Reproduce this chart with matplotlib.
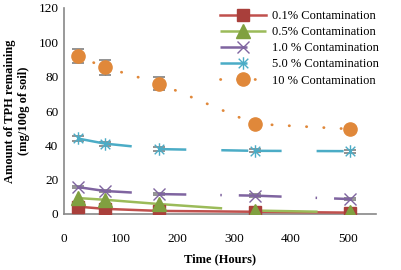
import matplotlib
matplotlib.use("Agg")
import matplotlib.pyplot as plt
from matplotlib.path import Path
from matplotlib.lines import Line2D
import numpy as np

plt.rcParams['font.family'] = ['Liberation Serif', 'DejaVu Serif']
plt.rcParams['lines.scale_dashes'] = False

hours = [24, 72, 168, 336, 504]
c01 = [4.3, 3.0, 1.8, 1.3, 0.8]
c05 = [9.3, 8.3, 5.8, 2.0, 1.0]
c10 = [15.7, 13.4, 11.6, 10.7, 8.7]
c50 = [44.0, 41.0, 37.8, 36.8, 36.6]
c100 = [92.0, 85.5, 76.0, 52.5, 49.5]
err100 = [4.2, 4.5, 4.0, 1.0, 1.0]
err50 = [1.5, 1.2, 1.2, 0.8, 0.8]
err10 = [0.8, 0.8, 0.8, 0.8, 0.8]

labels = ["0.1% Contamination", "0.5% Contamination", "1.0 % Contamination",
          "5.0 % Contamination", "10 % Contamination"]
xticks = [0, 100, 200, 300, 400, 500]
yticks = [0, 20, 40, 60, 80, 100, 120]

W, H = 401, 270
fig = plt.figure(figsize=(W/100, H/100), dpi=100)
ax = fig.add_axes([64/W, 1-214/H, (376-64)/W, (214-8)/H])

px = 0.72  # points per pixel

red = '#A93F3B'
green = '#80A040'
purple = '#7F64A0'
cyan = '#4BACC6'
orange = '#E0883A'
gray = '#808080'

star = Path([(-1, -1), (1, 1), (-1, 1), (1, -1), (0, -1.3), (0, 1.3)],
            [Path.MOVETO, Path.LINETO, Path.MOVETO, Path.LINETO, Path.MOVETO, Path.LINETO])

ecap = dict(fmt='none', ecolor=gray, elinewidth=1.0, capsize=4, capthick=1.2, zorder=2)

series = [
    (c01, '#C0504D', 1.8, '-', dict(marker='s', ms=9, mfc=red, mec=red), None),
    (c05, '#9BBB59', 1.8, (0, (63*px, 30*px)), dict(marker='^', ms=10, mfc=green, mec=green), None),
    (c10, purple, 1.8, (0, (27*px, 34*px, 1.5*px, 17*px)), dict(marker='x', ms=9, mew=1.0, mec=purple), err10),
    (c50, cyan, 1.8, (0, (27*px, 35*px)), dict(marker=star, ms=9, mew=1.0, mec=cyan, mfc='none'), err50),
    (c100, orange, 2.0, (0, (0.3*px, 17*px)), dict(marker='o', ms=9.5, mfc=orange, mec=orange), err100),
]

handles = []
for i, (vals, col, lw, ls, mk, err) in enumerate(series):
    for j in range(len(hours) - 1):
        seg, = ax.plot(hours[j:j+2], vals[j:j+2], color=col, lw=lw, ls=ls, zorder=3)
        seg.set_dash_capstyle('round' if i == 4 else 'butt')
    if err is not None:
        ax.errorbar(hours, vals, yerr=err, **ecap)
    ax.plot(hours, vals, ls='none', zorder=4 + (1 if i == 1 else 0), **mk)
    h = Line2D([], [], color=col, lw=lw, ls=ls, **mk)
    h.set_dash_capstyle('round' if i == 4 else 'butt')
    handles.append(h)

ax.set_xlim(0, 550)
ax.set_ylim(0, 120)
ax.set_xticks(xticks)
ax.set_yticks(yticks)
ax.tick_params(length=0, labelsize=9.5, pad=4)
ax.tick_params(axis='x', pad=14)
for s in ['top', 'right']:
    ax.spines[s].set_visible(False)
for s in ['left', 'bottom']:
    ax.spines[s].set_color('#888888')
    ax.spines[s].set_linewidth(1.2)

ax.set_xlabel("Time (Hours)", fontsize=9, fontweight='bold', labelpad=6)
ax.set_ylabel("Amount of TPH remaining\n(mg/100g of soil)", fontsize=9,
              fontweight='bold', labelpad=6, linespacing=1.2)

leg = ax.legend(handles, labels, loc='upper left', bbox_to_anchor=(220/W, 1-10/H),
                bbox_transform=fig.transFigure, frameon=False, fontsize=9,
                handlelength=3.7, handletextpad=0.45, labelspacing=0.33,
                borderpad=0, borderaxespad=0, numpoints=1)

fig.savefig("out.png", dpi=100)
